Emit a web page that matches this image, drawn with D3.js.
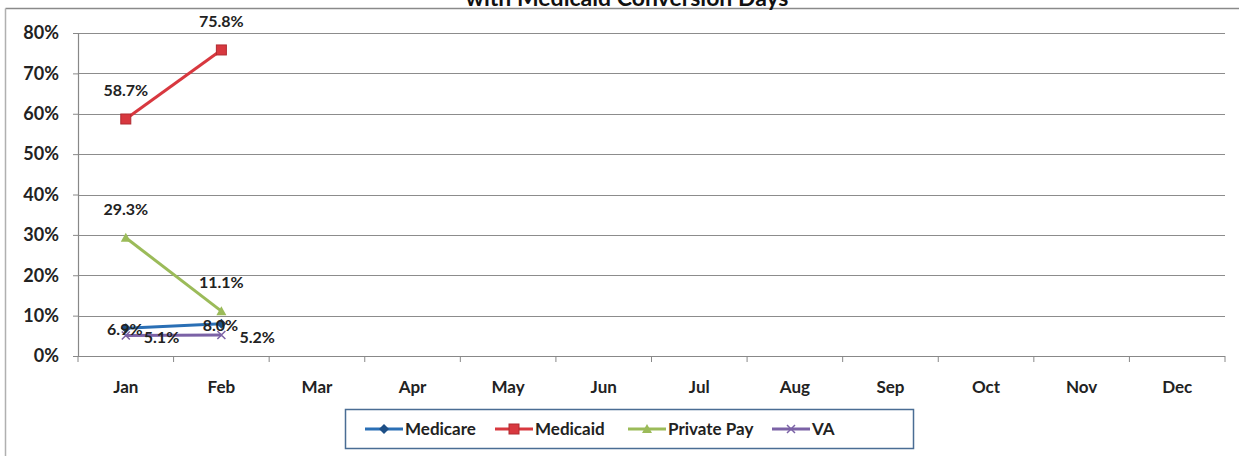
<!DOCTYPE html>
<html>
<head>
<meta charset="utf-8">
<script src="https://cdn.jsdelivr.net/npm/d3@7"></script>
<style>
  html, body { margin: 0; padding: 0; background: #fff; }
  svg { display: block; }
  text { font-family: Lato, "Open Sans", "Liberation Sans", sans-serif; }
</style>
</head>
<body>
<svg id="chart" width="1239" height="456"></svg>
<script>
// Monthly payer-mix shares (percent)
const months = ["Jan","Feb","Mar","Apr","May","Jun","Jul","Aug","Sep","Oct","Nov","Dec"];
const seriesNames = ["Medicare", "Medicaid", "Private Pay", "VA"];
const medicare   = [6.9, 8.0];
const medicaid   = [58.7, 75.8];
const privatePay = [29.3, 11.1];
const va         = [5.1, 5.2];
const yTicks = [0, 10, 20, 30, 40, 50, 60, 70, 80];
const titleText = "with Medicaid Conversion Days";

const colors = {
  "Medicare": "#2a6fb5",
  "Medicaid": "#d8383f",
  "Private Pay": "#9bbb59",
  "VA": "#7b62a6"
};

const series = [
  { name: seriesNames[0], values: medicare, marker: "diamond", labelPos: "center" },
  { name: seriesNames[1], values: medicaid, marker: "square", labelPos: "above" },
  { name: seriesNames[2], values: privatePay, marker: "triangle", labelPos: "above" },
  { name: seriesNames[3], values: va, marker: "cross", labelPos: "right" }
];

const svg = d3.select("#chart");
const W = 1239, H = 456;
const plot = { left: 78, right: 1225, top: 33, bottom: 356 };

const x = d3.scaleBand().domain(months).range([plot.left, plot.right]).padding(0);
const y = d3.scaleLinear().domain([0, 80]).range([plot.bottom, plot.top]);

// outer chart frame
svg.append("line").attr("x1", 5.5).attr("x2", W).attr("y1", 8.5).attr("y2", 8.5)
  .attr("stroke", "#8a8a8a").attr("stroke-width", 1.5);
svg.append("line").attr("x1", 5.5).attr("x2", 5.5).attr("y1", 8.5).attr("y2", H)
  .attr("stroke", "#b0b0b0").attr("stroke-width", 1.5);

// title (second line)
svg.append("text").attr("x", 627).attr("y", 6)
  .attr("text-anchor", "middle").attr("font-size", 23).attr("font-weight", 700)
  .attr("fill", "#111").text(titleText);

// gridlines
svg.append("g").selectAll("line").data(yTicks.filter(d => d > 0)).join("line")
  .attr("x1", plot.left).attr("x2", plot.right)
  .attr("y1", d => Math.round(y(d)) + 0.5).attr("y2", d => Math.round(y(d)) + 0.5)
  .attr("stroke", "#8c8c8c").attr("stroke-width", 1.2);

// y axis
const yAxis = d3.axisLeft(y).tickValues(yTicks).tickSize(5).tickFormat(d => d + "%");
const gy = svg.append("g").attr("transform", `translate(${plot.left},0)`).call(yAxis);
gy.select(".domain").attr("stroke", "#888").attr("stroke-width", 1.2);
gy.selectAll(".tick line").attr("stroke", "#888");
gy.selectAll(".tick text").attr("x", -19).attr("font-size", 18).attr("font-weight", 700)
  .attr("fill", "#222").attr("font-family", "Lato, sans-serif");

// x axis with ticks at category boundaries
const gx = svg.append("g").attr("transform", `translate(0,${plot.bottom})`);
gx.append("line").attr("x1", plot.left).attr("x2", plot.right).attr("y1", 0.5).attr("y2", 0.5)
  .attr("stroke", "#888").attr("stroke-width", 1.2);
const bounds = months.map(m => x(m)).concat([plot.right]);
gx.selectAll("line.tk").data(bounds).join("line").attr("class", "tk")
  .attr("x1", d => d).attr("x2", d => d).attr("y1", 0).attr("y2", 6)
  .attr("stroke", "#888");
gx.selectAll("text").data(months).join("text")
  .attr("x", d => x(d) + x.bandwidth() / 2).attr("y", 37)
  .attr("text-anchor", "middle").attr("font-size", 17).attr("font-weight", 700)
  .attr("fill", "#222").text(d => d);

const cx = i => x(months[i]) + x.bandwidth() / 2;

function drawMarker(g, type, color, px, py) {
  if (type === "square") {
    g.append("rect").attr("x", px - 5).attr("y", py - 5).attr("width", 10).attr("height", 10)
      .attr("fill", color).attr("stroke", "#b02a30").attr("stroke-width", 1);
  } else if (type === "diamond") {
    g.append("path").attr("d", `M${px},${py - 5}L${px + 5},${py}L${px},${py + 5}L${px - 5},${py}Z`)
      .attr("fill", "#1d4f86");
  } else if (type === "triangle") {
    g.append("path").attr("d", `M${px},${py - 5}L${px + 5},${py + 4}L${px - 5},${py + 4}Z`)
      .attr("fill", color);
  } else if (type === "cross") {
    g.append("path").attr("d", `M${px - 4},${py - 4}L${px + 4},${py + 4}M${px - 4},${py + 4}L${px + 4},${py - 4}`)
      .attr("stroke", color).attr("stroke-width", 1.5);
  }
}

const line = d3.line().x((d, i) => cx(i)).y(d => y(d));

// series lines and markers
series.forEach(s => {
  const g = svg.append("g");
  g.append("path").datum(s.values).attr("d", line).attr("fill", "none")
    .attr("stroke", colors[s.name]).attr("stroke-width", 3);
  s.values.forEach((v, i) => drawMarker(g, s.marker, colors[s.name], cx(i), y(v)));
});

// data labels
series.forEach(s => {
  s.values.forEach((v, i) => {
    let lx = cx(i), ly = y(v), anchor = "middle";
    if (s.labelPos === "above") { ly = y(v) - 23; }
    else if (s.labelPos === "center") { ly = y(v) + 7; lx = cx(i) - 1; }
    else if (s.labelPos === "right") { lx = cx(i) + 18; ly = y(v) + 8; anchor = "start"; }
    svg.append("text").attr("x", lx).attr("y", ly).attr("text-anchor", anchor)
      .attr("font-size", 16).attr("font-weight", 700).attr("fill", "#222")
      .text(v.toFixed(1) + "%");
  });
});

// legend
const lg = svg.append("g");
lg.append("rect").attr("x", 345.5).attr("y", 409.5).attr("width", 568).attr("height", 39)
  .attr("fill", "#fff").attr("stroke", "#4a6d94").attr("stroke-width", 1.5);
const legendX = [365, 495, 628, 772];
series.forEach((s, i) => {
  const lx = legendX[i], ly = 429;
  const len = 38;
  lg.append("line").attr("x1", lx).attr("x2", lx + len).attr("y1", ly).attr("y2", ly)
    .attr("stroke", colors[s.name]).attr("stroke-width", 3);
  drawMarker(lg, s.marker, colors[s.name], lx + len / 2, ly);
  lg.append("text").attr("x", lx + len + 2).attr("y", ly + 6).attr("font-size", 17)
    .attr("font-weight", 700).attr("fill", "#222").text(s.name);
});
</script>
</body>
</html>
